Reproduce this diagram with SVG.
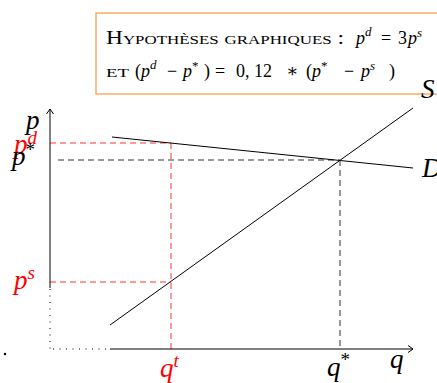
<svg xmlns="http://www.w3.org/2000/svg" width="437" height="383" viewBox="0 0 437 383">
<defs>
<style>
.ax{stroke:#000;stroke-width:1;fill:none}
.crv{stroke:#000;stroke-width:1;fill:none}
.rd{stroke:#f33;stroke-width:1;stroke-dasharray:6 4;fill:none}
.bd{stroke:#333;stroke-width:1;stroke-dasharray:6 4;fill:none}
.dot{stroke:#000;stroke-width:1;stroke-dasharray:1 5.5;fill:none}
.m{font-family:'Liberation Serif','DejaVu Serif',serif;font-style:italic;font-size:27px}
.r{fill:#f00}
.bx{font-family:'Liberation Serif','DejaVu Serif',serif;font-size:18px;fill:#000}
.it{font-style:italic}
.sc{font-variant:small-caps}
.sup{font-size:13px;font-style:italic}
.st{font-size:13px;font-style:normal}
</style>
<marker id="ar" markerWidth="10" markerHeight="10" refX="7" refY="5" orient="auto" markerUnits="userSpaceOnUse">
<path d="M2,1.5 L7,5 L2,8.5" fill="none" stroke="#000" stroke-width="1"/>
</marker>
</defs>
<rect width="437" height="383" fill="#fff"/>
<g id="box">
<rect x="96" y="13" width="345" height="81" fill="#fff" stroke="#f7a050" stroke-width="1.3"/>
<text class="bx" y="44"><tspan x="106" class="sc" textLength="238" lengthAdjust="spacingAndGlyphs">Hypothèses graphiques :</tspan><tspan x="356" class="it">p</tspan><tspan class="sup" dy="-8">d</tspan><tspan dy="8" x="381">=</tspan><tspan x="398">3</tspan><tspan class="it" x="408">p</tspan><tspan class="sup" dy="-7">s</tspan></text>
<text class="bx" y="77"><tspan x="106" class="sc" textLength="23" lengthAdjust="spacingAndGlyphs">et</tspan><tspan x="135">(</tspan><tspan class="it">p</tspan><tspan class="sup" dy="-8">d</tspan><tspan dy="8" x="167">−</tspan><tspan class="it" x="183">p</tspan><tspan dy="-7" class="st">*</tspan><tspan dy="7" x="204">)</tspan><tspan x="215">=</tspan><tspan x="236">0, 12</tspan><tspan x="286">∗</tspan><tspan x="306">(</tspan><tspan class="it">p</tspan><tspan dy="-7" class="st">*</tspan><tspan dy="7" x="344">−</tspan><tspan class="it" x="361">p</tspan><tspan class="sup" dy="-7">s</tspan><tspan dy="7" x="389">)</tspan></text>
</g>
<g id="connectors">
<line class="rd" x1="50" y1="143" x2="171" y2="143"/>
<line class="rd" x1="50" y1="282" x2="171" y2="282"/>
<line class="rd" x1="171" y1="143" x2="171" y2="349"/>
<line class="bd" x1="58" y1="160" x2="340" y2="160"/>
<line class="bd" x1="340" y1="160" x2="340" y2="349"/>
<line class="dot" x1="50" y1="289" x2="50" y2="349"/>
<line class="dot" x1="53" y1="349" x2="110" y2="349"/>
<line class="ax" x1="50" y1="288" x2="50" y2="109" marker-end="url(#ar)"/>
<line class="ax" x1="110" y1="349" x2="413" y2="349" marker-end="url(#ar)"/>
<line class="crv" x1="110" y1="325" x2="413" y2="108"/>
<line class="crv" x1="112" y1="137" x2="413" y2="168"/>
<circle cx="5" cy="354" r="1.2" fill="#000"/>
</g>
<g id="labels">
<text class="m" x="26" y="129">p</text>
<text class="m r" x="14" y="153">p<tspan font-size="19" dy="-9">d</tspan></text>
<text class="m" x="12" y="165">p<tspan font-size="19" dy="-9" font-style="normal">*</tspan></text>
<text class="m r" x="14" y="289">p<tspan font-size="19" dy="-10">s</tspan></text>
<text class="m r" x="160" y="377">q<tspan font-size="19" dy="-10">t</tspan></text>
<text class="m" x="327" y="376">q<tspan font-size="19" dy="-10" font-style="normal">*</tspan></text>
<text class="m" x="390" y="368">q</text>
<text class="m" x="421" y="98">S</text>
<text class="m" x="422" y="177">D</text>
</g>
</svg>
